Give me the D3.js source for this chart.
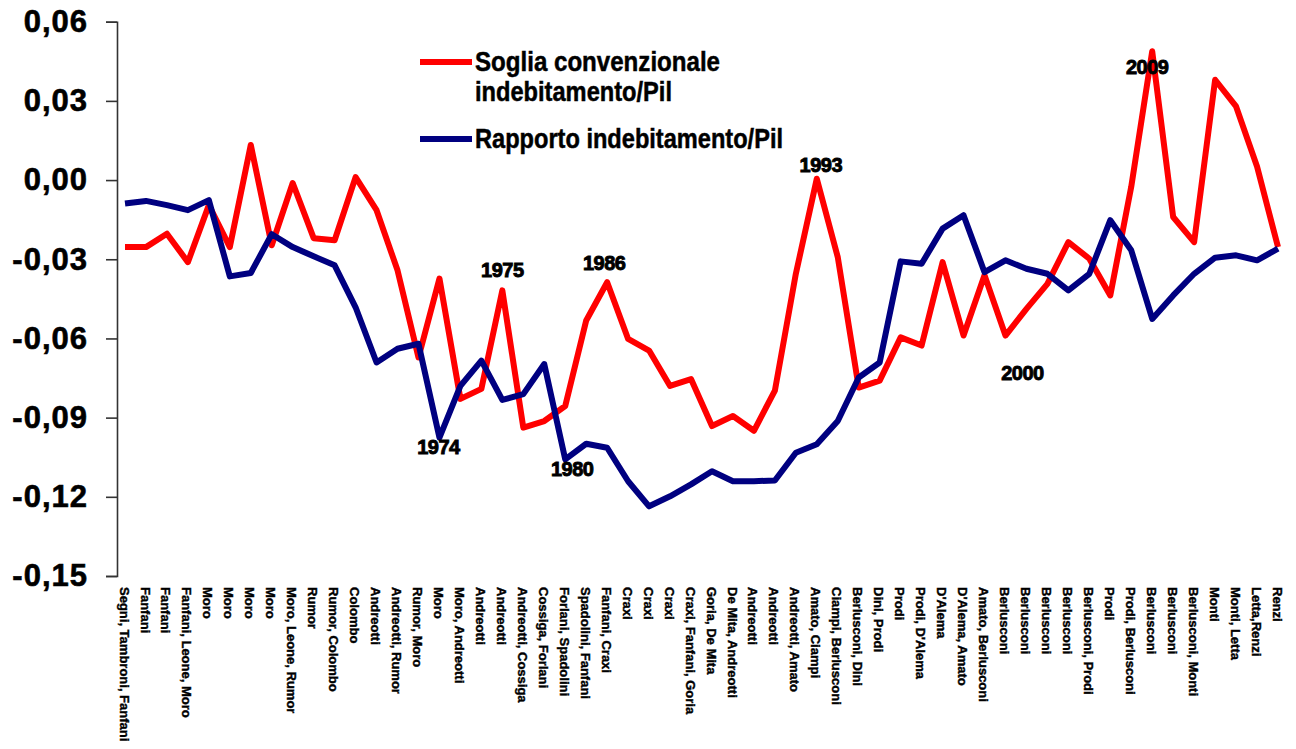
<!DOCTYPE html>
<html><head><meta charset="utf-8">
<script src="https://cdn.jsdelivr.net/npm/d3@7"></script>
<style>body{margin:0;background:#fff}svg{display:block}</style>
</head><body><svg id="chart" width="1296" height="749"></svg>
<script>
const categories = [
  "Segni, Tambroni, Fanfani","Fanfani","Fanfani","Fanfani, Leone, Moro","Moro","Moro","Moro","Moro",
  "Moro, Leone, Rumor","Rumor","Rumor, Colombo","Colombo","Andreotti","Andreotti, Rumor","Rumor, Moro","Moro",
  "Moro, Andreotti","Andreotti","Andreotti","Andreotti, Cossiga","Cossiga, Forlani","Forlani, Spadolini",
  "Spadolini, Fanfani","Fanfani, Craxi","Craxi","Craxi","Craxi","Craxi, Fanfani, Goria","Goria, De Mita",
  "De Mita, Andreotti","Andreotti","Andreotti","Andreotti, Amato","Amato, Ciampi","Ciampi, Berlusconi",
  "Berlusconi, Dini","Dini, Prodi","Prodi","Prodi, D'Alema","D'Alema","D'Alema, Amato","Amato, Berlusconi",
  "Berlusconi","Berlusconi","Berlusconi","Berlusconi","Berlusconi, Prodi","Prodi","Prodi, Berlusconi",
  "Berlusconi","Berlusconi","Berlusconi, Monti","Monti","Monti, Letta","Letta,Renzi","Renzi"
];
const soglia = [
  -0.0254,-0.0254,-0.0203,-0.0311,-0.0095,-0.0254,0.0133,-0.0247,-0.0011,-0.0220,
  -0.0228,0.0011,-0.0114,-0.0342,-0.0672,-0.0373,-0.0829,-0.0791,-0.0418,-0.0938,
  -0.0913,-0.0856,-0.0532,-0.0387,-0.0602,-0.0646,-0.0780,-0.0754,-0.0932,-0.0894,
  -0.0950,-0.0798,-0.0355,0.0005,-0.0292,-0.0786,-0.0760,-0.0596,-0.0627,-0.0311,
  -0.0589,-0.0361,-0.0589,-0.0488,-0.0393,-0.0235,-0.0298,-0.0437,-0.0025,0.0488,
  -0.0140,-0.0235,0.0380,0.0279,0.0051,-0.0254
];
const rapporto = [
  -0.0089,-0.0079,-0.0095,-0.0114,-0.0076,-0.0365,-0.0352,-0.0205,-0.0254,-0.0289,
  -0.0323,-0.0482,-0.0691,-0.0639,-0.0620,-0.0976,-0.0780,-0.0684,-0.0833,-0.0811,
  -0.0697,-0.1058,-0.0999,-0.1014,-0.1141,-0.1236,-0.1198,-0.1153,-0.1103,-0.1141,
  -0.1141,-0.1138,-0.1033,-0.1001,-0.0913,-0.0748,-0.0691,-0.0308,-0.0317,-0.0184,
  -0.0133,-0.0349,-0.0304,-0.0336,-0.0355,-0.0418,-0.0355,-0.0152,-0.0266,-0.0526,
  -0.0437,-0.0355,-0.0294,-0.0285,-0.0304,-0.0260
];
const yTicks = [0.06, 0.03, 0.00, -0.03, -0.06, -0.09, -0.12, -0.15];
const seriesNames = ["Soglia convenzionale indebitamento/Pil", "Rapporto indebitamento/Pil"];
const annotationTexts = ["1974","1975","1980","1986","1993","2000","2009"];
const annotationIdx   = [15, 18, 21, 23, 33, 43, 49];
const annotationSeries = ["rapporto","soglia","rapporto","soglia","soglia","soglia","soglia"];

const svg = d3.select("#chart");
const x = d3.scalePoint().domain(d3.range(categories.length)).range([125, 1278]);
const y = d3.scaleLinear().domain([-0.15, 0.06]).range([576, 21.7]);
const fmt = v => d3.format(".2f")(v).replace(".", ",").replace("−","-");

// Y axis
const yAxis = d3.axisLeft(y).tickValues(yTicks).tickSize(11).tickPadding(18).tickFormat(fmt);
const gy = svg.append("g").attr("transform", "translate(117,0)").call(yAxis);
gy.select(".domain").attr("stroke", "#333").attr("stroke-width", 1.6);
gy.selectAll(".tick line").attr("stroke", "#333").attr("stroke-width", 1.6);
gy.selectAll(".tick text")
  .attr("font-family", "Liberation Sans, Arial, sans-serif")
  .attr("font-weight", "bold").attr("font-size", 31).attr("fill", "#000")
  .attr("stroke", "#000").attr("stroke-width", 0.6)
  .attr("letter-spacing", 1);

// X labels
svg.append("g").selectAll("text").data(categories).join("text")
  .attr("transform", (d, i) => `translate(${x(i) - 2},587) rotate(90)`)
  .attr("dominant-baseline", "middle")
  .attr("font-family", "Liberation Sans, Arial, sans-serif")
  .attr("font-weight", "bold").attr("font-size", 13).attr("fill", "#000")
  .attr("stroke", "#000").attr("stroke-width", 0.4)
  .text(d => d);

// Lines
const line = d3.line().x((d, i) => x(i)).y(d => y(d));
svg.append("path").datum(soglia).attr("d", line)
  .attr("fill", "none").attr("stroke", "#FF0000").attr("stroke-width", 6).attr("stroke-linejoin", "round");
svg.append("path").datum(rapporto).attr("d", line)
  .attr("fill", "none").attr("stroke", "#000080").attr("stroke-width", 6).attr("stroke-linejoin", "round");

// Annotations
const annOffsets = {"1974":[-1,16],"1975":[0,-13],"1980":[7,17],"1986":[-3,-12],"1993":[4,-7],"2000":[-4,71],"2009":[-5,23]};
annotationTexts.forEach((t, k) => {
  const i = annotationIdx[k];
  const v = annotationSeries[k] === "soglia" ? soglia[i] : rapporto[i];
  const [dx, dy] = annOffsets[t];
  svg.append("text")
    .attr("x", x(i) + dx).attr("y", y(v) + dy)
    .attr("text-anchor", "middle")
    .attr("font-family", "Liberation Sans, Arial, sans-serif")
    .attr("font-weight", "bold").attr("font-size", 20).attr("fill", "#000")
    .attr("stroke", "#000").attr("stroke-width", 0.9)
    .attr("letter-spacing", -0.5)
    .text(t);
});

// Legend
const lg = svg.append("g").attr("font-family", "Liberation Sans, Arial, sans-serif")
  .attr("font-weight", "bold").attr("font-size", 28).attr("fill", "#000")
  .attr("stroke", "#000").attr("stroke-width", 0.5);
lg.append("line").attr("x1", 420).attr("x2", 472).attr("y1", 62).attr("y2", 62)
  .attr("stroke", "#FF0000").attr("stroke-width", 6);
lg.append("text").attr("x", 475).attr("y", 71).attr("textLength", 245).attr("lengthAdjust", "spacingAndGlyphs")
  .text("Soglia convenzionale");
lg.append("text").attr("x", 475).attr("y", 101).attr("textLength", 197).attr("lengthAdjust", "spacingAndGlyphs")
  .text("indebitamento/Pil");
lg.append("line").attr("x1", 420).attr("x2", 472).attr("y1", 139).attr("y2", 139)
  .attr("stroke", "#000080").attr("stroke-width", 6);
lg.append("text").attr("x", 475).attr("y", 148).attr("textLength", 308).attr("lengthAdjust", "spacingAndGlyphs")
  .text(seriesNames[1]);
</script>
</body></html>
